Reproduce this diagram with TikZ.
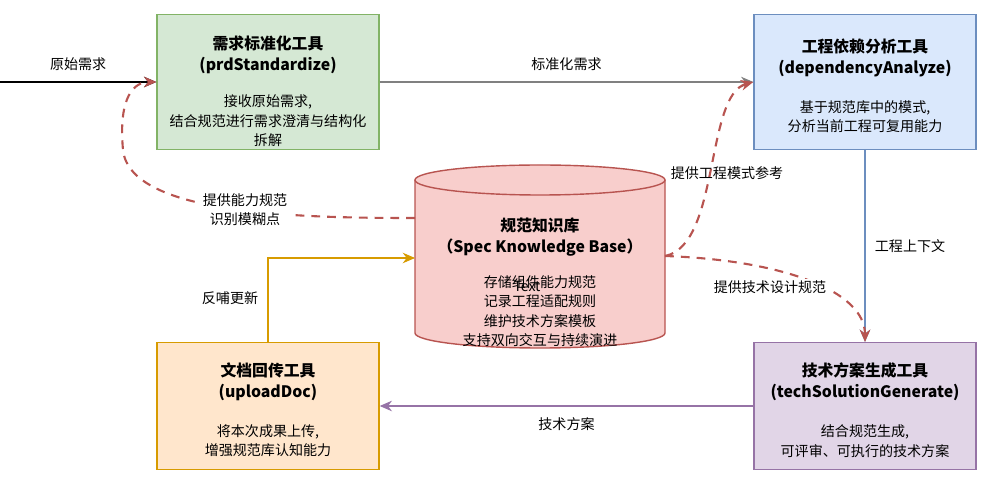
\documentclass[tikz,border=0pt]{standalone}
\usepackage{fontspec}
\setmainfont{Noto Sans CJK SC}
\usetikzlibrary{arrows.meta}
\definecolor{gfill}{HTML}{D5E8D4}\definecolor{gline}{HTML}{82B366}
\definecolor{bfill}{HTML}{DAE8FC}\definecolor{bline}{HTML}{6C8EBF}
\definecolor{rfill}{HTML}{F8CECC}\definecolor{rline}{HTML}{B85450}
\definecolor{ofill}{HTML}{FFE6CC}\definecolor{oline}{HTML}{D79B00}
\definecolor{pfill}{HTML}{E1D5E7}\definecolor{pline}{HTML}{9673A6}
\tikzset{
  box/.style={draw, thick, minimum width=4.44cm, minimum height=2.7cm},
  lbl/.style={font=\fontsize{8}{11}\selectfont, align=center},
  ttl/.style={font=\fontsize{9}{12}\selectfont\bfseries, align=center},
  flow/.style={-{Stealth[length=7pt,width=6pt]}, semithick},
  ref/.style={flow, rline, very thick, dash pattern=on 5pt off 4pt},
}
\begin{document}
\begin{tikzpicture}[x=0.02cm,y=-0.02cm]
  \useasboundingbox (0,0) rectangle (1000,482);
  % tools
  \node[box, fill=gfill, draw=gline] (prd) at (268,82) {};
  \node[ttl] (prdT) at (268,55) {需求标准化工具\\(prdStandardize)};
  \node[lbl] (prdB) at (268,121) {接收原始需求,\\结合规范进行需求澄清与结构化\\拆解};
  \node[box, fill=bfill, draw=bline] (dep) at (865,82) {};
  \node[ttl] (depT) at (865,58) {工程依赖分析工具\\(dependencyAnalyze)};
  \node[lbl] (depB) at (865,117) {基于规范库中的模式,\\分析当前工程可复用能力};
  \node[box, fill=ofill, draw=oline, minimum height=2.54cm] (up) at (268,406) {};
  \node[ttl] (upT) at (268,382) {文档回传工具\\(uploadDoc)};
  \node[lbl] (upB) at (268,441) {将本次成果上传,\\增强规范库认知能力};
  \node[box, fill=pfill, draw=pline, minimum height=2.54cm] (tech) at (865,406) {};
  \node[ttl] (techT) at (865,382) {技术方案生成工具\\(techSolutionGenerate)};
  \node[lbl] (techB) at (865,441) {结合规范生成,\\可评审、可执行的技术方案};
  % knowledge base
  \fill[rfill] (415,180) -- (415,333) arc[start angle=180,end angle=360,x radius=125,y radius=-15] -- (665,180) -- cycle;
  \draw[rline, thick] (415,180) -- (415,333) arc[start angle=180,end angle=360,x radius=125,y radius=-15] -- (665,180);
  \draw[rline, thick, fill=rfill] (540,180) ellipse[x radius=125, y radius=15];
  \coordinate (kbl) at (415,218);
  \coordinate (kbi) at (415,258);
  \coordinate (kbr) at (665,256);
  \node[ttl] (kb) at (540,237) {规范知识库\\（Spec Knowledge Base）};
  \node[lbl] (kbtxt) at (540,311) {存储组件能力规范\\记录工程适配规则\\维护技术方案模板\\支持双向交互与持续演进};
  \node[lbl] (stray) at (527,286) {Text};
  % flows
  \coordinate (src) at (0,82);
  \coordinate (bend) at (268,258);
  \draw[flow] (src) -- (prd.west) node[lbl, midway, above=3pt] {原始需求};
  \draw[flow, gray] (prd.east) -- (dep.west) node[lbl, midway, above=3pt, black] {标准化需求};
  \draw[flow, bline] (dep.south) -- (tech.north) node[lbl, midway, right=2pt, black] {工程上下文};
  \draw[flow, pline] (tech.west) -- (up.east) node[lbl, midway, below=3pt, black] {技术方案};
  \draw[flow, oline] (up.north) -- (bend) -- (kbi);
  \node[lbl] (l0) at (230,298) {反哺更新};
  % references
  \draw[ref] (kbl) .. controls (300,218) and (130,215) .. (123,150) .. controls (118,95) and (135,82) .. (prd.west);
  \node[lbl, fill=white, inner sep=1pt] (l1) at (245,210) {提供能力规范\\识别模糊点};
  \draw[ref] (kbr) .. controls (720,245) and (705,95) .. (dep.west);
  \node[lbl] (l2) at (727,173) {提供工程模式参考};
  \draw[ref] (kbr) .. controls (780,260) and (865,290) .. (865,342);
  \node[lbl, fill=white, inner sep=1pt] (l3) at (770,287) {提供技术设计规范};
\end{tikzpicture}
\end{document}
